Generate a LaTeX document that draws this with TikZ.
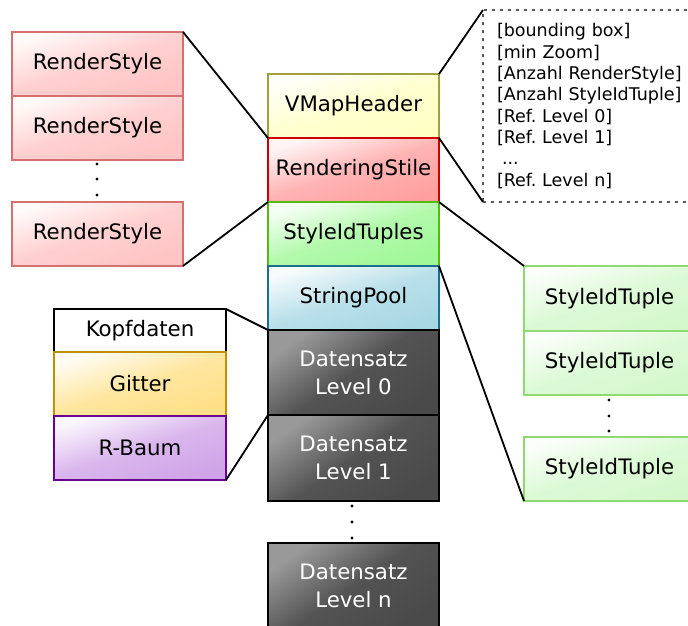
\documentclass[tikz,border=0pt]{standalone}
\usepackage{fontspec}
\setmainfont{DejaVu Sans}
\usetikzlibrary{positioning}
\frenchspacing
\definecolor{rsline}{HTML}{D47070}
\definecolor{rsfill}{HTML}{FFC4C4}
\definecolor{hdline}{HTML}{A0A040}
\definecolor{hdfill}{HTML}{FFFFC4}
\definecolor{stline}{HTML}{CC0000}
\definecolor{stfill}{HTML}{FFA0A0}
\definecolor{tpline}{HTML}{55BB11}
\definecolor{tpfill}{HTML}{A0F898}
\definecolor{spline}{HTML}{1A6E8E}
\definecolor{spfill}{HTML}{A8D8E4}
\definecolor{dsfill}{HTML}{4A4A4A}
\definecolor{tuline}{HTML}{90D870}
\definecolor{tufill}{HTML}{D4F8CC}
\definecolor{gtline}{HTML}{C09000}
\definecolor{gtfill}{HTML}{FFE088}
\definecolor{rbline}{HTML}{6A0090}
\definecolor{rbfill}{HTML}{D0A4E8}

\begin{document}
\begin{tikzpicture}[x=1pt, y=-1pt,
  cell/.style 2 args={rectangle, draw=#1, line width=1.3pt, top color=#2!10!white, bottom color=#2, middle color=#2!80!white, shading angle=18,
    minimum width=171pt, minimum height=64pt, anchor=north west, outer sep=0pt, inner sep=0pt, align=center, font=\fontsize{21.3}{28}\selectfont},
  datacell/.style={cell={black}{dsfill}, top color=black!40, bottom color=dsfill, middle color=dsfill!95!white, shading angle=35, text=white, minimum height=85pt},
  infobox/.style={rectangle, draw=black!65, line width=2pt, dash pattern=on 3pt off 5pt, anchor=north west, outer sep=0pt, inner xsep=14pt,
    text width=190pt, minimum height=192pt, align=left, font=\fontsize{17.5}{21.3}\selectfont},
  link/.style={line width=1.8pt, black},
  vdot/.style={fill=black}
]
  \clip (0,0) rectangle (688,626);

  % Hauptdatei
  \node[cell={hdline}{hdfill}] (header) at (268,74) {VMapHeader};
  \node[cell={stline}{stfill}] (stile) at (268,138) {RenderingStile};
  \node[cell={tpline}{tpfill}] (tuples) at (268,202) {StyleIdTuples};
  \node[cell={spline}{spfill}] (pool) at (268,266) {StringPool};
  \node[datacell] (level0) at (268,330) {Datensatz\\Level 0};
  \node[datacell, minimum height=86pt] (level1) at (268,415) {Datensatz\\Level 1};
  \node[datacell, minimum height=86pt] (leveln) at (268,543) {Datensatz\\Level n};
  \foreach \y in {506,522,538} \fill[vdot] (352,\y) circle (1.7);

  % Kopf
  \node[infobox] (info) at (483,10) {{[bounding box]}\\{[min Zoom]}\\{[Anzahl RenderStyle]}\\{[Anzahl StyleIdTuple]}\\{[Ref. Level 0]}\\{[Ref. Level 1]}\\\hspace{5pt}...\\{[Ref. Level n]}};

  % RenderStyles
  \node[cell={rsline}{rsfill}] (style1) at (12,32) {RenderStyle};
  \node[cell={rsline}{rsfill}] (style2) at (12,96) {RenderStyle};
  \node[cell={rsline}{rsfill}] (stylen) at (12,202) {RenderStyle};
  \foreach \y in {164,179,195} \fill[vdot] (97,\y) circle (1.7);

  % StyleIdTuples
  \node[cell={tuline}{tufill}, minimum height=65pt] (tuple1) at (524,266) {StyleIdTuple};
  \node[cell={tuline}{tufill}] (tuple2) at (524,331) {StyleIdTuple};
  \node[cell={tuline}{tufill}] (tuplen) at (524,437) {StyleIdTuple};
  \foreach \y in {400,416,431} \fill[vdot] (609,\y) circle (1.7);

  % Datensatz
  \node[cell={black}{white}, minimum width=172pt, minimum height=43pt] (kopf) at (54,309) {Kopfdaten};
  \node[cell={gtline}{gtfill}, minimum width=172pt] (gitter) at (54,352) {Gitter};
  \node[cell={rbline}{rbfill}, minimum width=172pt] (rbaum) at (54,416) {R-Baum};

  \draw[link] (style1.north east) -- (stile.north west);
  \draw[link] (stylen.south east) -- (stile.south west);
  \draw[link] (header.north east) -- (info.north west);
  \draw[link] (header.south east) -- (info.south west);
  \draw[link] (tuples.north east) -- (tuple1.north west);
  \draw[link] (tuples.south east) -- (tuplen.south west);
  \draw[link] (kopf.north east) -- (level0.north west);
  \draw[link] (rbaum.south east) -- (level0.south west);
\end{tikzpicture}
\end{document}
